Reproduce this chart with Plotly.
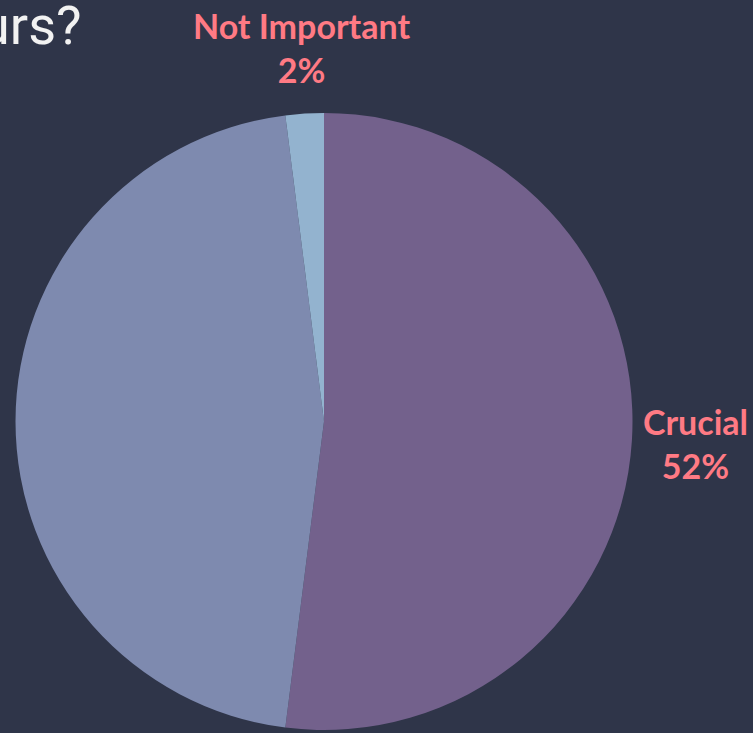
import plotly.graph_objects as go

labels = ["Crucial", "Important", "Not Important"]
values = [52, 46, 2]
colors = ["#73618C", "#7E8AAF", "#93B3CF"]
title_text = "How important are the colours?"

W, H = 753, 733
fig = go.Figure(go.Pie(
    labels=labels,
    values=values,
    sort=False,
    direction="clockwise",
    rotation=0,
    marker=dict(colors=colors, line=dict(width=0)),
    textinfo="none",
    hoverinfo="label+percent",
    showlegend=False,
    automargin=False,
    domain=dict(x=[14 / W, 634 / W], y=[1 - 730 / H, 1 - 113 / H]),
))

total = sum(values)
label_pos = {"Crucial": (695, 444), "Not Important": (301, 48)}
for lab, val in zip(labels, values):
    if lab not in label_pos:
        continue
    px, py = label_pos[lab]
    fig.add_annotation(
        text=f"<b>{lab}</b><br><b>{round(100 * val / total)}%</b>",
        xref="paper", yref="paper", x=px / W, y=1 - py / H,
        xanchor="center", yanchor="middle", showarrow=False,
        font=dict(family="Lato", size=34, color="#FF7A84"),
    )

fig.add_annotation(
    text=title_text, xref="paper", yref="paper",
    x=84 / W, y=1 - 25 / H, xanchor="right", yanchor="middle",
    showarrow=False,
    font=dict(family="Roboto", size=54, color="#F2F2F2"),
)

fig.update_layout(
    width=W, height=H,
    margin=dict(l=0, r=0, t=0, b=0),
    paper_bgcolor="#2F3549",
    plot_bgcolor="#2F3549",
)

fig.write_html("out.html")
